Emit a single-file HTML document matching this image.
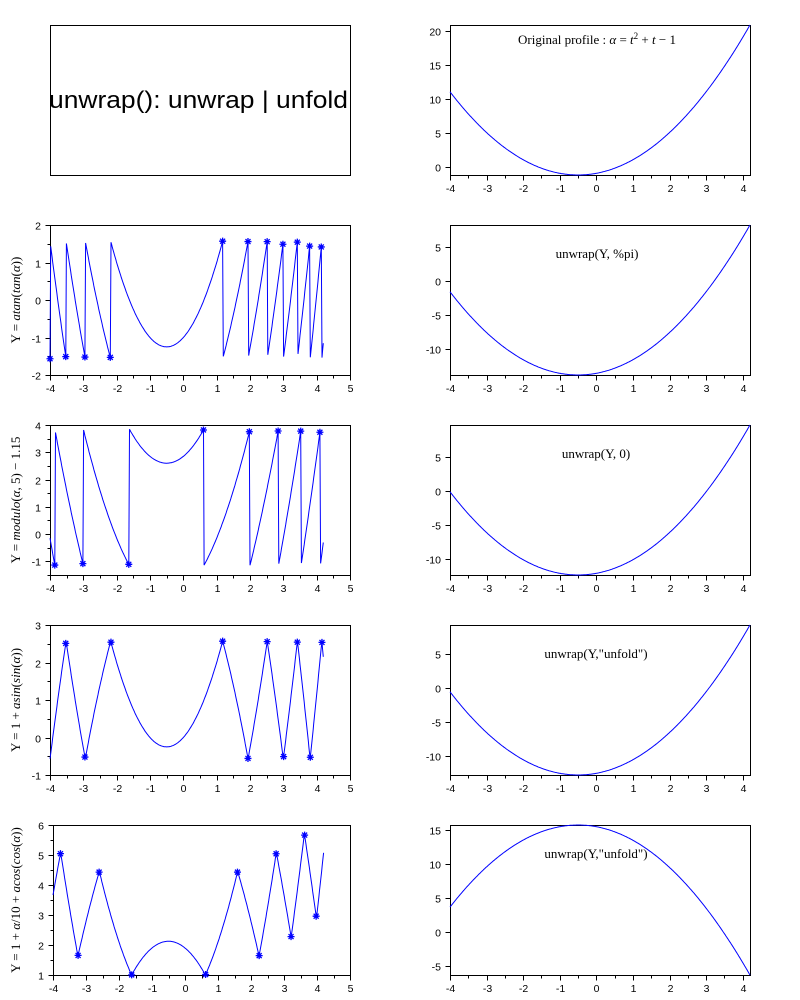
<!DOCTYPE html>
<html><head><meta charset="utf-8"><style>
html,body{margin:0;padding:0;background:#fff;}
svg{display:block;}
</style></head><body>
<svg id="s" xmlns="http://www.w3.org/2000/svg" width="800" height="1000" viewBox="0 0 800 1000">
<rect x="0" y="0" width="800" height="1000" fill="#fff"/>
<rect x="50.5" y="25.5" width="300" height="150" fill="none" stroke="#000" stroke-width="1"/>
<text x="49" y="108" font-family="Liberation Sans, sans-serif" font-size="24" textLength="299" lengthAdjust="spacingAndGlyphs">unwrap(): unwrap | unfold</text>
<g font-family="Liberation Serif, serif" font-size="13" text-anchor="middle" fill="#000">
<text x="597" y="44">Original profile :  <tspan font-style="italic">α</tspan> = <tspan font-style="italic">t</tspan><tspan font-size="9" dy="-5">2</tspan><tspan dy="5"> + </tspan><tspan font-style="italic">t</tspan> − 1</text>
<text x="597" y="258">unwrap(Y, %pi)</text>
<text x="596" y="458">unwrap(Y, 0)</text>
<text x="596" y="658">unwrap(Y,"unfold")</text>
<text x="596" y="858">unwrap(Y,"unfold")</text>
</g>
<g font-family="Liberation Serif, serif" font-size="13" fill="#000">
<text transform="translate(20,300) rotate(-90)" text-anchor="middle">Y =  <tspan font-style="italic">atan</tspan>(<tspan font-style="italic">tan</tspan>(<tspan font-style="italic">α</tspan>))</text>
<text transform="translate(20,500) rotate(-90)" text-anchor="middle">Y =  <tspan font-style="italic">modulo</tspan>(<tspan font-style="italic">α</tspan>, 5) − 1.15</text>
<text transform="translate(20,700) rotate(-90)" text-anchor="middle">Y =  1 + <tspan font-style="italic">asin</tspan>(<tspan font-style="italic">sin</tspan>(<tspan font-style="italic">α</tspan>))</text>
<text transform="translate(20,900) rotate(-90)" text-anchor="middle">Y =  1 + <tspan font-style="italic">α</tspan>/10 + <tspan font-style="italic">acos</tspan>(<tspan font-style="italic">cos</tspan>(<tspan font-style="italic">α</tspan>))</text>
</g>
<g id="plots"></g>
</svg>
<script>
(function(){
var NS="http://www.w3.org/2000/svg", G=document.getElementById("plots");
function el(n,a,t){var e=document.createElementNS(NS,n);for(var k in a)e.setAttribute(k,a[k]);if(t!==undefined)e.textContent=t;G.appendChild(e);return e;}
var N=400,T=[],A=[];
for(var i=0;i<N;i++){var t=-4+8.2*i/(N-1);T.push(t);A.push(t*t+t-1);}
function axes(x0,x1,y0,y1,xmin,xmax,ymin,ymax,xt,xminor,yt,yminor){
 function X(v){return x0+(v-xmin)/(xmax-xmin)*(x1-x0);}
 function Y(v){return y1-(v-ymin)/(ymax-ymin)*(y1-y0);}
 el("rect",{x:x0+.5,y:y0+.5,width:x1-x0,height:y1-y0,fill:"none",stroke:"#000","stroke-width":1});
 var p="";
 for(var v=Math.ceil(xmin/xminor-1e-9)*xminor;v<=xmax+1e-9;v+=xminor){
  var isM=Math.abs(v/xt-Math.round(v/xt))<1e-6;var x=Math.round(X(v))+.5;
  p+="M"+x+","+(y1+.5)+"v"+(isM?5:3);
  if(isM)el("text",{x:x,y:y1+17,"font-family":"Liberation Sans, sans-serif","font-size":10.5,"text-anchor":"middle"},String(Math.round(v)));
 }
 for(var v=Math.ceil(ymin/yminor-1e-9)*yminor;v<=ymax+1e-9;v+=yminor){
  var isM=Math.abs(v/yt-Math.round(v/yt))<1e-6;var y=Math.round(Y(v))+.5;
  p+="M"+(x0+.5)+","+y+"h"+(isM?-5:-3);
  if(isM)el("text",{x:x0-9,y:y+4,"font-family":"Liberation Sans, sans-serif","font-size":10.5,"text-anchor":"end"},String(Math.round(v)));
 }
 el("path",{d:p,stroke:"#000","stroke-width":1,fill:"none"});
 return {X:X,Y:Y};
}
function line(ax,ys){var d="";for(var i=0;i<N;i++)d+=(i?"L":"M")+ax.X(T[i]).toFixed(1)+","+ax.Y(ys[i]).toFixed(1);
 el("path",{d:d,stroke:"#0000ff","stroke-width":1,fill:"none"});}
function stars(ax,ys,idx){var d="";idx.forEach(function(i){var x=ax.X(T[i]),y=ax.Y(ys[i]);
 d+="M"+(x-3.5)+","+y+"h7M"+x+","+(y-3.5)+"v7M"+(x-2.5)+","+(y-2.5)+"l5,5M"+(x-2.5)+","+(y+2.5)+"l5,-5";});
 el("path",{d:d,stroke:"#0000ff","stroke-width":1.3,fill:"none"});}
function jumps(ys,th){var r=[];for(var i=0;i<N-1;i++)if(Math.abs(ys[i+1]-ys[i])>th)r.push(i);return r;}
function folds(w){var r=[],prev=null;for(var i=0;i<N-1;i++){var s=(w[i+1]-w[i])/(A[i+1]-A[i])>0;if(prev!==null&&s!==prev)r.push(i);prev=s;}return r;}
function rng(a){return [Math.min.apply(null,a),Math.max.apply(null,a)];}
var ax=axes(450,750,25,175,-4,4.2,-1.25,20.84,1,0.5,5,5);line(ax,A);
var Y2=A.map(function(a){return Math.atan(Math.tan(a));});
ax=axes(50,350,225,375,-4,5,-2,2,1,0.5,1,0.5);line(ax,Y2);stars(ax,Y2,jumps(Y2,1.5));
var U2=A.map(function(a){return a-4*Math.PI;});var r=rng(U2);
ax=axes(450,750,225,375,-4,4.2,r[0],r[1],1,0.5,5,5);line(ax,U2);
var Y3=A.map(function(a){return (a%5+5)%5-1.15;});
ax=axes(50,350,425,575,-4,5,-1.5,4,1,0.5,1,0.5);line(ax,Y3);stars(ax,Y3,jumps(Y3,2.5));
var U3=A.map(function(a){return a-11.15;});r=rng(U3);
ax=axes(450,750,425,575,-4,4.2,r[0],r[1],1,0.5,5,5);line(ax,U3);
var W4=A.map(function(a){return Math.asin(Math.sin(a));});var Y4=W4.map(function(w){return 1+w;});
ax=axes(50,350,625,775,-4,5,-1,3,1,0.5,1,0.5);line(ax,Y4);stars(ax,Y4,folds(W4));
var U4=A.map(function(a){return a-11.566;});r=rng(U4);
ax=axes(450,750,625,775,-4,4.2,r[0],r[1],1,0.5,5,5);line(ax,U4);
var W5=A.map(function(a){return Math.acos(Math.cos(a));});var Y5=A.map(function(a,i){return 1+a/10+W5[i];});
ax=axes(53,350,825,975,-4,5,1,6,1,0.5,1,0.5);line(ax,Y5);stars(ax,Y5,folds(W5));
var U5=T.map(function(t,i){var a=A[i];return t<=-0.5?3.67+0.985*(11-a):15.74-0.9986*(a+1.25);});
ax=axes(450,750,825,975,-4,4.2,-6.32,15.74,1,0.5,5,5);line(ax,U5);
})();
</script>
</body></html>
